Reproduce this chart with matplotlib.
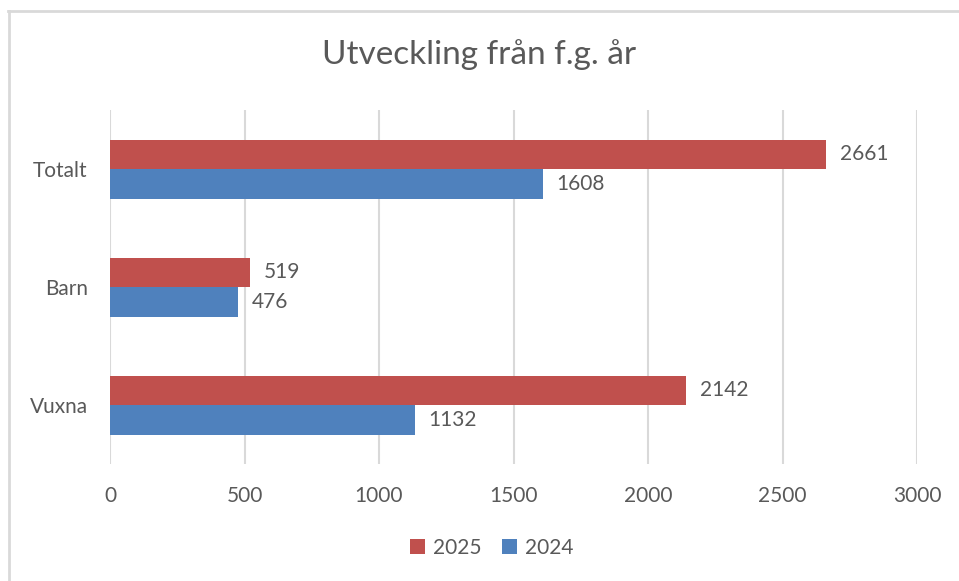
import numpy as np
import matplotlib.pyplot as plt
from matplotlib.lines import Line2D

categories = ["Vuxna", "Barn", "Totalt"]
values_2025 = [2142, 519, 2661]
values_2024 = [1132, 476, 1608]
xticks = [0, 500, 1000, 1500, 2000, 2500, 3000]

plt.rcParams['font.family'] = ['Lato', 'DejaVu Sans']
textcol = "#595959"
red = "#C0504D"
blue = "#4F81BD"

fig = plt.figure(figsize=(9.59, 5.81), dpi=100)
W, H = 959, 581

# chart area border (left + top visible)
fig.add_artist(Line2D([8.5/W, 8.5/W], [0, 1 - 11/H], color="#d9d9d9", lw=2, transform=fig.transFigure))
fig.add_artist(Line2D([8/W, 1], [1 - 11/H, 1 - 11/H], color="#d9d9d9", lw=2, transform=fig.transFigure))

ax = fig.add_axes([110/W, 1 - 464/H, (917 - 110)/W, (464 - 110)/H])

y = np.arange(len(categories))
h = 0.25
b25 = ax.barh(y + h/2, values_2025, height=h, color=red, label="2025", zorder=3)
b24 = ax.barh(y - h/2, values_2024, height=h, color=blue, label="2024", zorder=3)

for bars in (b25, b24):
    ax.bar_label(bars, padding=10, fontsize=15, color=textcol)

ax.set_xlim(0, 3000)
ax.set_ylim(-0.5, 2.5)
ax.set_xticks(xticks)
ax.set_xticklabels([str(t) for t in xticks])
ax.set_yticks(y)
ax.set_yticklabels(categories)
ax.tick_params(axis="both", length=0, labelsize=15, labelcolor=textcol)
ax.tick_params(axis="x", pad=16)
ax.tick_params(axis="y", pad=16)
ax.xaxis.grid(True, color="#d9d9d9", lw=1.5, zorder=0)
for s in ax.spines.values():
    s.set_visible(False)

fig.text(0.5, 1 - 55/H, "Utveckling från f.g. år", ha="center", va="center", fontsize=24, color=textcol)

fig.legend(handles=[b25, b24], labels=["2025", "2024"], loc="center", bbox_to_anchor=(492/W, 1 - 548/H),
           ncol=2, frameon=False, fontsize=15, labelcolor=textcol, handlelength=0.7, handleheight=0.7,
           handletextpad=0.4, columnspacing=1.0)

plt.savefig("out.png", dpi=100)
plt.close()
